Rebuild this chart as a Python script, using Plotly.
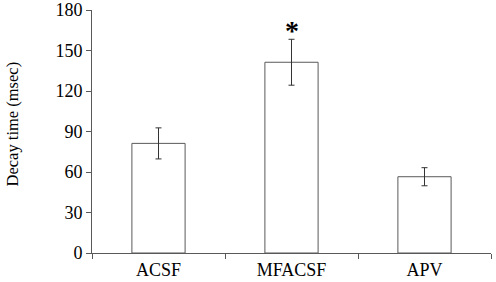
import plotly.graph_objects as go

categories = ["ACSF", "MFACSF", "APV"]
decay_time = [81.2, 141.3, 56.5]
sem = [11.5, 17.0, 6.7]
y_ticks = [0, 30, 60, 90, 120, 150, 180]

line_col = "#595959"
font_fam = "Liberation Serif, Times New Roman, serif"

fig = go.Figure()
fig.add_trace(go.Bar(
    x=categories, y=decay_time, width=0.4,
    marker=dict(color="white", line=dict(color=line_col, width=1)),
    error_y=dict(type="data", array=sem, visible=True, color="#333333", thickness=1, width=3),
))
fig.add_annotation(x="MFACSF", y=165, text="<b>*</b>", showarrow=False,
                   font=dict(size=28, family=font_fam, color="black"), yanchor="middle")
fig.add_annotation(xref="paper", yref="paper", x=-0.2005, y=0.529, text="Decay time (msec)",
                   textangle=-90, showarrow=False, xanchor="center", yanchor="middle",
                   font=dict(size=16.5, family=font_fam, color="black"))

fig.update_layout(
    width=496, height=282,
    margin=dict(l=92, r=5, t=10, b=29),
    plot_bgcolor="white", paper_bgcolor="white",
    showlegend=False,
    font=dict(family=font_fam, size=18, color="black"),
    bargap=0.6,
)
fig.update_xaxes(
    type="category", showline=True, linecolor=line_col, linewidth=1,
    ticks="outside", tickson="boundaries", ticklen=5, tickcolor=line_col,
    showgrid=False, tickfont=dict(size=18), automargin=False,
)
fig.update_yaxes(
    range=[0, 180], tickvals=y_ticks, showline=True, linecolor=line_col, linewidth=1,
    ticks="outside", ticklen=5, tickcolor=line_col, showgrid=False, zeroline=False,
    tickfont=dict(size=18), automargin=False,
)
fig.write_html("out.html", config={"displayModeBar": False},
               post_script="document.body.style.margin='0';document.body.style.padding='0';")
